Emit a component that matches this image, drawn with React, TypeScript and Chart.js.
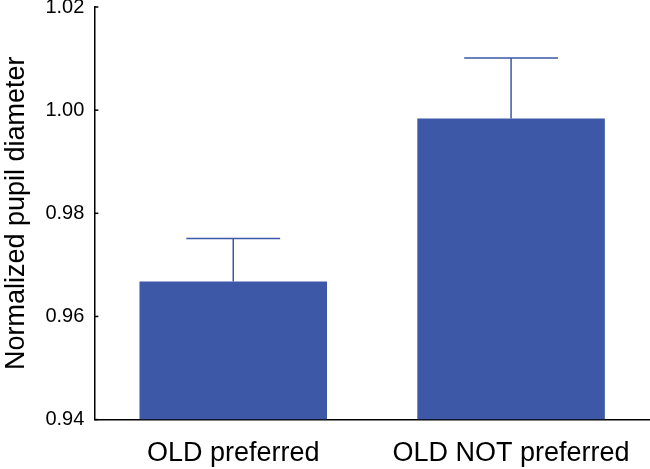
import React, { useEffect, useRef } from "react";
import { Chart, registerables } from "chart.js";

Chart.register(...registerables);

const categories = ["OLD preferred", "OLD NOT preferred"];
const meanValues = [0.9668, 0.9984];
const errorTops = [0.9751, 1.0101];
const yTicks = [0.94, 0.96, 0.98, 1.0, 1.02];

const BAR_COLOR = "rgb(61,88,166)";
const FONT = "'Liberation Sans', Arial, Helvetica, sans-serif";

const errorBarPlugin = {
  id: "errorBars",
  afterDatasetsDraw(chart: any) {
    const ctx = chart.ctx;
    const meta = chart.getDatasetMeta(0);
    const yScale = chart.scales.y;
    ctx.save();
    ctx.strokeStyle = BAR_COLOR;
    ctx.lineWidth = 1.5;
    meta.data.forEach((bar: any, i: number) => {
      const x = bar.x;
      const yTop = yScale.getPixelForValue(errorTops[i]);
      const yBar = yScale.getPixelForValue(meanValues[i]);
      const half = bar.width / 4;
      ctx.beginPath();
      ctx.moveTo(x, yBar);
      ctx.lineTo(x, yTop);
      ctx.moveTo(x - half, yTop);
      ctx.lineTo(x + half, yTop);
      ctx.stroke();
    });
    ctx.restore();
  },
};

const innerTicksPlugin = {
  id: "innerTicks",
  afterDraw(chart: any) {
    const ctx = chart.ctx;
    const yScale = chart.scales.y;
    const left = chart.chartArea.left;
    ctx.save();
    ctx.strokeStyle = "#000";
    ctx.lineWidth = 1.5;
    yTicks.forEach((v) => {
      const y = yScale.getPixelForValue(v);
      ctx.beginPath();
      ctx.moveTo(left, y);
      ctx.lineTo(left + 4, y);
      ctx.stroke();
    });
    ctx.restore();
  },
};

export default function App() {
  const ref = useRef<HTMLCanvasElement>(null);
  useEffect(() => {
    if (!ref.current) return;
    const chart = new Chart(ref.current, {
      type: "bar",
      data: {
        labels: categories,
        datasets: [
          {
            data: meanValues,
            backgroundColor: BAR_COLOR,
            borderWidth: 0,
            barPercentage: 0.675,
            categoryPercentage: 1,
            base: 0.94,
          },
        ],
      },
      options: {
        responsive: false,
        animation: false,
        layout: { padding: { top: 0, right: 0, left: 0, bottom: 0 } },
        plugins: {
          legend: { display: false },
          tooltip: { enabled: false },
        },
        scales: {
          x: {
            grid: { display: false, drawTicks: false },
            border: { display: true, color: "#000", width: 1.5 },
            ticks: {
              color: "#000",
              font: { family: FONT, size: 27 },
              padding: 18,
            },
          },
          y: {
            min: 0.94,
            max: 1.02,
            afterBuildTicks: (scale: any) => {
              scale.ticks = yTicks.map((v) => ({ value: v }));
            },
            grid: { display: false, drawTicks: false },
            border: { display: true, color: "#000", width: 1.5 },
            ticks: {
              color: "#000",
              font: { family: FONT, size: 20 },
              padding: 10,
              callback: (v: any) => Number(v).toFixed(2),
            },
            title: {
              display: true,
              text: "Normalized pupil diameter",
              color: "#000",
              font: { family: FONT, size: 27 },
              padding: { top: 0, bottom: 3 },
            },
          },
        },
      },
      plugins: [errorBarPlugin, innerTicksPlugin],
    });
    return () => chart.destroy();
  }, []);
  return (
    <div
      style={{
        position: "absolute",
        left: 0,
        top: 0,
        width: 650,
        height: 469,
        overflow: "hidden",
      }}
    >
      <canvas
        ref={ref}
        width={650}
        height={503}
        style={{ display: "block", marginTop: -15 }}
      />
    </div>
  );
}
